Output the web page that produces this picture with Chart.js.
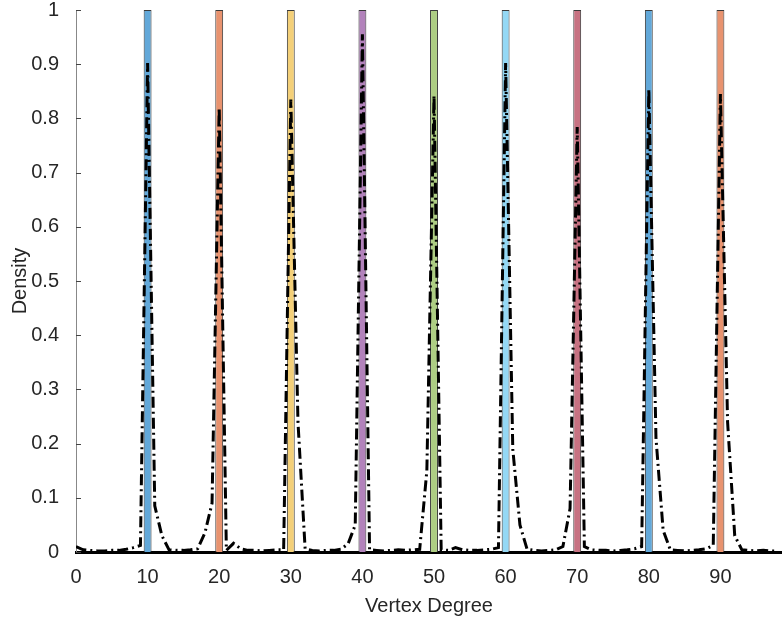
<!DOCTYPE html>
<html lang="en">
<head>
    <meta charset="UTF-8">
    <title>Vertex Degree Density</title>
    <style>
        html, body {
            margin: 0;
            padding: 0;
            background: #ffffff;
        }

        #chartBox {
            width: 782px;
            height: 622px;
        }
    </style>
    <script src="https://cdn.jsdelivr.net/npm/chart.js"></script>
</head>
<body>
    <div id="chartBox">
        <canvas id="chart"></canvas>
    </div>

    <script>
        // bars (one per target degree)
        const barDegrees = [10, 20, 30, 40, 50, 60, 70, 80, 90];
        const barHeights = [1, 1, 1, 1, 1, 1, 1, 1, 1];
        const barColors = ['#62a8d9', '#e8936f', '#f4d079', '#b282bb', '#adcd83',
                           '#94d8f5', '#c77282', '#62a8d9', '#e8936f'];

        // estimated density, one value per degree 0..98
        const densityValues = [
            0.010, 0.004, 0.003, 0.002, 0.002, 0.003, 0.003, 0.005, 0.008, 0.012,
            0.902, 0.085, 0.030, 0.004, 0.003, 0.003, 0.004, 0.006, 0.035, 0.090,
            0.820, 0.003, 0.016, 0.006, 0.003, 0.003, 0.002, 0.003, 0.004, 0.004,
            0.835, 0.240, 0.006, 0.003, 0.002, 0.003, 0.003, 0.005, 0.015, 0.050,
            0.955, 0.004, 0.003, 0.002, 0.003, 0.004, 0.003, 0.004, 0.005, 0.150,
            0.842, 0.004, 0.003, 0.008, 0.004, 0.003, 0.003, 0.004, 0.005, 0.008,
            0.902, 0.190, 0.050, 0.005, 0.003, 0.002, 0.003, 0.004, 0.010, 0.080,
            0.784, 0.010, 0.004, 0.003, 0.003, 0.002, 0.003, 0.004, 0.006, 0.010,
            0.854, 0.210, 0.040, 0.004, 0.003, 0.002, 0.003, 0.004, 0.006, 0.012,
            0.845, 0.240, 0.030, 0.004, 0.003, 0.002, 0.003, 0.002, 0.002
        ];

        const xTicks = [0, 10, 20, 30, 40, 50, 60, 70, 80, 90];
        const yTicks = [0, 0.1, 0.2, 0.3, 0.4, 0.5, 0.6, 0.7, 0.8, 0.9, 1];

        const textColor = '#262626';
        const fontFamily = 'Liberation Sans, Arial, Helvetica, sans-serif';

        // small inward tick marks on the y axis, like the original figure
        const inwardTicks = {
            id: 'inwardTicks',
            afterDraw(chart) {
                const ctx = chart.ctx;
                const y = chart.scales.y;
                const left = chart.chartArea.left;
                ctx.save();
                ctx.strokeStyle = '#444';
                ctx.lineWidth = 1;
                yTicks.forEach(v => {
                    const py = Math.round(y.getPixelForValue(v)) + 0.5;
                    ctx.beginPath();
                    ctx.moveTo(left, py);
                    ctx.lineTo(left + 5, py);
                    ctx.stroke();
                });
                ctx.restore();
            }
        };

        const ctx = document.getElementById('chart').getContext('2d');
        new Chart(ctx, {
            type: 'bar',
            data: {
                datasets: [{
                    type: 'line',
                    label: 'Density',
                    data: densityValues.map((v, i) => ({ x: i, y: v })),
                    borderColor: '#000000',
                    borderWidth: 3,
                    borderDash: [11, 4, 2, 4],
                    pointRadius: 0,
                    tension: 0,
                    fill: false,
                    order: 0
                }, {
                    label: 'Degree',
                    data: barDegrees.map((d, i) => ({ x: d, y: barHeights[i] })),
                    backgroundColor: barColors,
                    borderColor: '#3a3a3a',
                    borderWidth: 1,
                    barPercentage: 0.11,
                    categoryPercentage: 1,
                    order: 1
                }]
            },
            options: {
                responsive: true,
                maintainAspectRatio: false,
                animation: false,
                layout: {
                    padding: { top: 0, right: 0, bottom: 0, left: 0 }
                },
                plugins: {
                    legend: { display: false },
                    tooltip: { enabled: false }
                },
                scales: {
                    x: {
                        type: 'linear',
                        min: 0,
                        max: 98.6,
                        offset: false,
                        afterBuildTicks: scale => {
                            scale.ticks = xTicks.map(v => ({ value: v }));
                        },
                        afterFit: scale => {
                            scale.height = 70;
                            scale.paddingRight = 0;
                        },
                        grid: { display: false },
                        border: { display: true, color: '#000000', width: 3 },
                        ticks: {
                            color: textColor,
                            font: { family: fontFamily, size: 20 },
                            padding: 5,
                            maxRotation: 0
                        },
                        title: {
                            display: true,
                            text: 'Vertex Degree',
                            color: textColor,
                            font: { family: fontFamily, size: 20 },
                            padding: { top: 2 }
                        }
                    },
                    y: {
                        min: 0,
                        max: 1,
                        afterBuildTicks: scale => {
                            scale.ticks = yTicks.map(v => ({ value: v }));
                        },
                        afterFit: scale => {
                            scale.width = 76;
                            scale.paddingTop = 10;
                            scale.paddingBottom = 0;
                        },
                        grid: { display: false },
                        border: { display: true, color: '#888', width: 1 },
                        ticks: {
                            color: textColor,
                            font: { family: fontFamily, size: 20 },
                            padding: 9,
                            callback: v => String(+v.toFixed(1))
                        },
                        title: {
                            display: true,
                            text: 'Density',
                            color: textColor,
                            font: { family: fontFamily, size: 20 },
                            padding: { top: 8, bottom: 2 }
                        }
                    }
                }
            },
            plugins: [inwardTicks]
        });
    </script>
</body>
</html>
